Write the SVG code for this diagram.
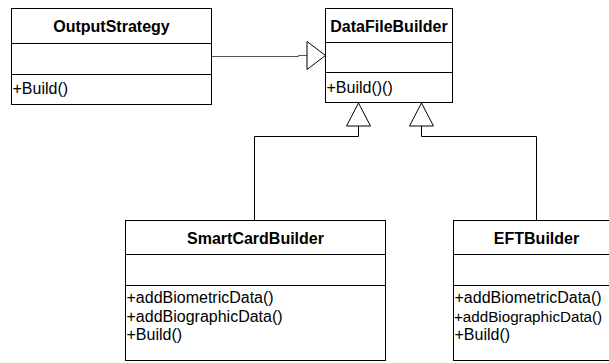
<svg xmlns="http://www.w3.org/2000/svg" width="609" height="363" viewBox="0 0 609 363">
<style>
.box{fill:#fff;stroke:#000;stroke-width:1}
.div{stroke:#000;stroke-width:1}
.title{font-family:"Liberation Sans",Arial,sans-serif;font-size:16px;font-weight:bold;fill:#000;text-anchor:middle}
.op{font-family:"Liberation Sans",Arial,sans-serif;font-size:16px;fill:#000}
.conn{fill:none;stroke:#000;stroke-width:1}
.gray{stroke:#555}
</style>
<defs>
<marker id="inhUp" markerUnits="userSpaceOnUse" viewBox="-1 -1 26 26" refX="23" refY="12" markerWidth="26" markerHeight="26" orient="auto" overflow="visible">
<path d="M0,0 L23,12 L0,24 Z" fill="#fff" stroke="#000" stroke-width="1"/>
</marker>
<marker id="inhSide" markerUnits="userSpaceOnUse" viewBox="-1 -1 21 30" refX="18.5" refY="14" markerWidth="21" markerHeight="30" orient="auto" overflow="visible">
<path d="M0,0 L18.5,14 L0,28 Z" fill="#fff" stroke="#000" stroke-width="1"/>
</marker>
</defs>
<rect width="609" height="363" fill="#fff"/>
<g id="connectors">
<path class="conn gray" d="M212,56.5 H298.5 V55.5 H325.5" marker-end="url(#inhSide)"/>
<path class="conn" d="M254.5,220 V136.5 H358.5 V103" marker-end="url(#inhUp)"/>
<path class="conn" d="M536.5,220 V136.5 H421.5 V103" marker-end="url(#inhUp)"/>
</g>
<g id="OutputStrategy">
<rect class="box" x="11.5" y="8.5" width="200" height="96"/>
<line class="div" x1="11.5" y1="43.5" x2="211.5" y2="43.5"/>
<line class="div" x1="11.5" y1="74.5" x2="211.5" y2="74.5"/>
<text class="title" x="111.5" y="32">OutputStrategy</text>
<text class="op" x="12.5" y="94">+Build()</text>
</g>
<g id="DataFileBuilder">
<rect class="box" x="325.5" y="8.5" width="127" height="94"/>
<line class="div" x1="325.5" y1="42.5" x2="452.5" y2="42.5"/>
<line class="div" x1="325.5" y1="72.5" x2="452.5" y2="72.5"/>
<text class="title" x="389" y="32">DataFileBuilder</text>
<text class="op" x="326.5" y="93">+Build()()</text>
</g>
<g id="SmartCardBuilder">
<rect class="box" x="125.5" y="220.5" width="260" height="140"/>
<line class="div" x1="125.5" y1="254.5" x2="385.5" y2="254.5"/>
<line class="div" x1="125.5" y1="285.5" x2="385.5" y2="285.5"/>
<text class="title" x="255.5" y="243.5">SmartCardBuilder</text>
<text class="op" x="126.5" y="303">+addBiometricData()</text>
<text class="op" x="126.5" y="321.5">+addBiographicData()</text>
<text class="op" x="126.5" y="340">+Build()</text>
</g>
<g id="EFTBuilder">
<rect class="box" x="453.5" y="220.5" width="166" height="140"/>
<line class="div" x1="453.5" y1="254.5" x2="619.5" y2="254.5"/>
<line class="div" x1="453.5" y1="285.5" x2="619.5" y2="285.5"/>
<text class="title" x="536.5" y="243.5">EFTBuilder</text>
<text class="op" x="454.5" y="303">+addBiometricData()</text>
<text class="op" x="454" y="321.5" style="font-size:15.2px">+addBiographicData()</text>
<text class="op" x="454.5" y="340">+Build()</text>
</g>
</svg>
